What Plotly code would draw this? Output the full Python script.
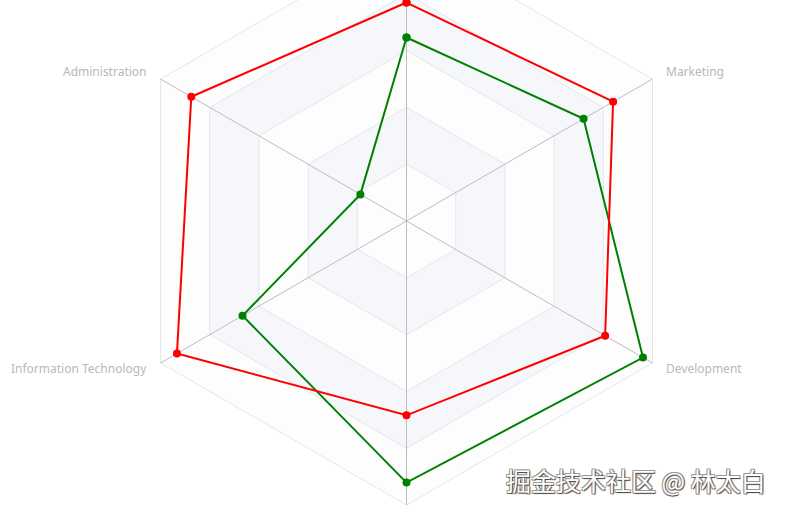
import math
import plotly.graph_objects as go

# ---- data ----
indicators = ["Sales", "Administration", "Information Technology",
              "Customer Support", "Development", "Marketing"]
max_values = [6500, 16000, 30000, 38000, 52000, 25000]
allocated_budget = [4200, 3000, 20000, 35000, 50000, 18000]
actual_spending = [5000, 14000, 28000, 26000, 42000, 21000]
split_levels = [0.2, 0.4, 0.6, 0.8, 1.0]
watermark = "掘金技术社区 @ 林太白"

# ---- geometry (radar drawn on a cartesian plane, radius 1 = outer ring) ----
W, H = 785, 509
CX, CY, R = 406.5, 221, 284  # center & radius in pixels
n = len(indicators)
angles = [math.radians(90 + 360.0 * k / n) for k in range(n)]


def ring(level):
    xs = [level * math.cos(a) for a in angles] + [level * math.cos(angles[0])]
    ys = [level * math.sin(a) for a in angles] + [level * math.sin(angles[0])]
    return xs, ys


def series_xy(values):
    rs = [v / m for v, m in zip(values, max_values)]
    xs = [r * math.cos(a) for r, a in zip(rs, angles)]
    ys = [r * math.sin(a) for r, a in zip(rs, angles)]
    return xs + xs[:1], ys + ys[:1]


fig = go.Figure()

# split areas (alternating, drawn outermost first)
for i, lvl in enumerate(reversed(split_levels)):
    idx = len(split_levels) - 1 - i  # 4 for outer
    color = "#fdfdfd" if idx % 2 == 0 else "#f5f7fb"
    xs, ys = ring(lvl)
    fig.add_trace(go.Scatter(x=xs, y=ys, mode="lines", fill="toself",
                             fillcolor=color, line=dict(width=0),
                             hoverinfo="skip", showlegend=False))

# split lines
for lvl in split_levels:
    xs, ys = ring(lvl)
    fig.add_trace(go.Scatter(x=xs, y=ys, mode="lines",
                             line=dict(color="#e3e6ec", width=1),
                             hoverinfo="skip", showlegend=False))

# axis lines
for a in angles:
    fig.add_trace(go.Scatter(x=[0, math.cos(a)], y=[0, math.sin(a)], mode="lines",
                             line=dict(color="#bdbdbd", width=1),
                             hoverinfo="skip", showlegend=False))

# data series
for name, vals, col in [("Allocated Budget", allocated_budget, "green"),
                        ("Actual Spending", actual_spending, "red")]:
    xs, ys = series_xy(vals)
    fig.add_trace(go.Scatter(x=xs, y=ys, mode="lines+markers", name=name,
                             line=dict(color=col, width=2),
                             marker=dict(color=col, size=8),
                             cliponaxis=False, showlegend=False))

# indicator names
gap = 13.0 / R
for name, a in zip(indicators, angles):
    x = math.cos(a) * (1 + gap)
    y = math.sin(a) * (1 + gap)
    c = math.cos(a)
    xanchor = "center" if abs(c) < 1e-6 else ("left" if c > 0 else "right")
    if y > CY / R or y < -(H - CY) / R:
        continue  # outside the visible canvas, as in the reference
    fig.add_annotation(x=x, y=y + 1.5 / R, text=name, showarrow=False,
                       xanchor=xanchor, yanchor="middle",
                       font=dict(family="Noto Sans, Arial, sans-serif", size=12, color="#b8b8b8"))

# watermark
fig.add_annotation(xref="paper", yref="paper", x=0.978, y=(H - 480) / H,
                   xanchor="right", yanchor="middle", text=watermark, showarrow=False,
                   font=dict(family="Noto Sans CJK SC", size=25, color="#ffffff",
                             shadow="1px 1px 1px #444, -1px -1px 0px #999, 1px -1px 0px #999, -1px 1px 0px #999"))

fig.update_layout(
    width=W, height=H,
    margin=dict(l=0, r=0, t=0, b=0),
    paper_bgcolor="white", plot_bgcolor="white",
    xaxis=dict(range=[-CX / R, (W - CX) / R], visible=False, fixedrange=True),
    yaxis=dict(range=[-(H - CY) / R, CY / R], visible=False, fixedrange=True),
    showlegend=False,
    hovermode=False,
)

fig.write_html("out.html", config={"displayModeBar": False},
               post_script="document.body.style.margin='0';")
